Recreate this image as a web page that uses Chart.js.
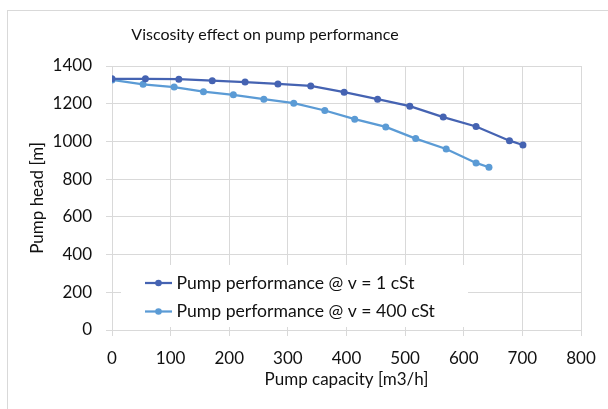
<!DOCTYPE html>
<html>
<head>
<meta charset="utf-8">
<script src="https://cdn.jsdelivr.net/npm/chart.js@4.4.0/dist/chart.umd.min.js"></script>
<style>
  body { margin: 0; background: #fff; }
  #pumpChart { display: block; }
</style>
</head>
<body>
<canvas id="pumpChart" width="608" height="409"></canvas>
<script>
// data
let seriesLabels = ["Pump performance @ v = 1 cSt", "Pump performance @ v = 400 cSt"];
let capacity1 = [0, 57, 114, 171, 227, 283, 339, 396, 453, 508, 565, 621, 678, 701];
let head1 = [1332, 1332, 1330, 1322, 1315, 1305, 1294, 1261, 1224, 1187, 1129, 1079, 1004, 981];
let capacity2 = [0, 53, 106, 156, 207, 259, 310, 363, 414, 467, 518, 570, 621, 643];
let head2 = [1326, 1303, 1288, 1264, 1247, 1224, 1203, 1164, 1118, 1077, 1015, 960, 886, 863];
let seriesColors = ["#4563B2", "#5B9BD5"];

let fontFamily = "Lato, 'Open Sans', sans-serif";
let textColor = "#111111";
let gridColor = "#d9d9d9";

function toPoints(xs, ys) {
  return xs.map((x, i) => ({ x: x, y: ys[i] }));
}

// outer frame + title
let framePlugin = {
  id: "frame",
  beforeDraw(chart) {
    let ctx = chart.ctx;
    ctx.save();
    ctx.fillStyle = "#fff";
    ctx.fillRect(0, 0, chart.width, chart.height);
    ctx.strokeStyle = gridColor;
    ctx.lineWidth = 1;
    ctx.strokeRect(7.5, 10.5, 900, 600);
    ctx.fillStyle = textColor;
    ctx.font = "16px " + fontFamily;
    ctx.textAlign = "center";
    ctx.textBaseline = "middle";
    ctx.fillText("Viscosity effect on pump performance", 265, 35);
    ctx.restore();
  },
};

// legend sits inside the plot area, bottom left
let insideLegend = {
  id: "insideLegend",
  afterDatasetsDraw(chart) {
    let ctx = chart.ctx;
    let area = chart.chartArea;
    let boxX = area.left + 9;
    let boxY = area.bottom - 65;
    ctx.save();
    ctx.fillStyle = "#fff";
    ctx.fillRect(boxX, boxY, 347, 62);
    ctx.font = "17.6px " + fontFamily;
    ctx.textBaseline = "middle";
    ctx.textAlign = "left";
    chart.data.datasets.forEach((ds, i) => {
      let rowY = boxY + 18 + i * 28.5;
      ctx.strokeStyle = ds.borderColor;
      ctx.lineWidth = 2.25;
      ctx.beginPath();
      ctx.moveTo(boxX + 24, rowY);
      ctx.lineTo(boxX + 51, rowY);
      ctx.stroke();
      ctx.fillStyle = ds.borderColor;
      ctx.beginPath();
      ctx.arc(boxX + 37.5, rowY, 3.3, 0, Math.PI * 2);
      ctx.fill();
      ctx.fillStyle = textColor;
      ctx.fillText(ds.label, boxX + 55.5, rowY);
    });
    ctx.restore();
  },
};

let pumpChart = new Chart(document.getElementById("pumpChart").getContext("2d"), {
  type: "scatter",
  data: {
    datasets: [
      {
        label: seriesLabels[0],
        data: toPoints(capacity1, head1),
        borderColor: seriesColors[0],
        backgroundColor: seriesColors[0],
      },
      {
        label: seriesLabels[1],
        data: toPoints(capacity2, head2),
        borderColor: seriesColors[1],
        backgroundColor: seriesColors[1],
      },
    ],
  },
  options: {
    responsive: false,
    animation: false,
    showLine: true,
    layout: {
      padding: { left: 0, right: 27, top: 66, bottom: 0 },
    },
    elements: {
      line: { borderWidth: 2.25, tension: 0 },
      point: { radius: 3.5, borderWidth: 0, hoverRadius: 3.5 },
    },
    plugins: {
      legend: { display: false },
      tooltip: { enabled: false },
    },
    scales: {
      x: {
        type: "linear",
        min: 0,
        max: 800,
        afterFit(scale) {
          scale.height = 79;
        },
        ticks: {
          stepSize: 100,
          color: textColor,
          padding: 12,
          font: { family: fontFamily, size: 17 },
          callback: (v) => String(v),
        },
        grid: { color: gridColor, tickLength: 6 },
        border: { color: gridColor },
        title: {
          display: true,
          text: "Pump capacity [m3/h]",
          color: textColor,
          font: { family: fontFamily, size: 17 },
          padding: { top: 0, bottom: 19 },
        },
      },
      y: {
        min: 0,
        max: 1400,
        afterFit(scale) {
          scale.width = 112;
        },
        ticks: {
          stepSize: 200,
          color: textColor,
          padding: 14,
          font: { family: fontFamily, size: 17 },
          callback: (v) => String(v),
        },
        grid: { color: gridColor, tickLength: 6 },
        border: { color: gridColor },
        title: {
          display: true,
          text: "Pump head [m]",
          color: textColor,
          font: { family: fontFamily, size: 17 },
          padding: { top: 27, bottom: 0 },
        },
      },
    },
  },
  plugins: [framePlugin, insideLegend],
});
</script>
</body>
</html>
